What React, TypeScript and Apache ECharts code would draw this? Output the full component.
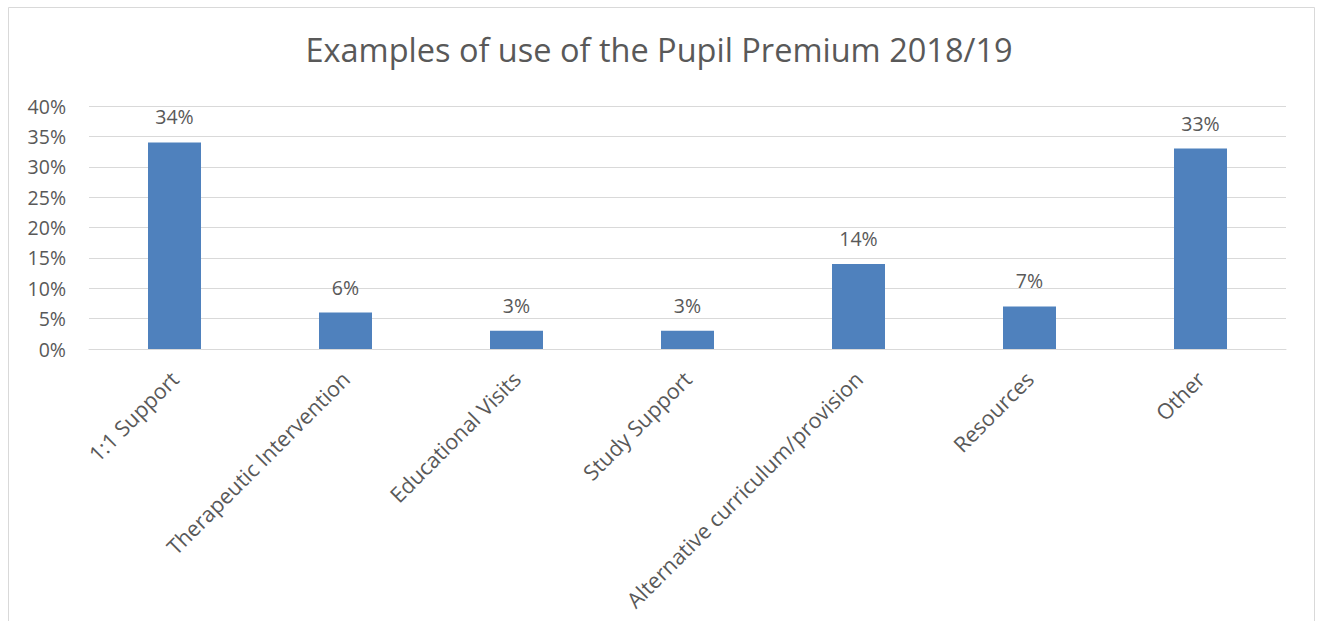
import React, { useEffect, useRef } from "react";
import * as echarts from "echarts";

const categories = [
  "1:1 Support",
  "Therapeutic Intervention",
  "Educational Visits",
  "Study Support",
  "Alternative curriculum/provision",
  "Resources",
  "Other",
];
const values = [34, 6, 3, 3, 14, 7, 33];
const titleText = "Examples of use of the Pupil Premium 2018/19";

const FONT = "'Open Sans', sans-serif";
const TXT = "#595959";

export default function App() {
  const ref = useRef<HTMLDivElement>(null);
  useEffect(() => {
    if (!ref.current) return;
    const chart = echarts.init(ref.current, null, { renderer: "svg" });
    chart.setOption({
      animation: false,
      backgroundColor: "#ffffff",
      title: {
        text: titleText,
        left: "center",
        top: 28,
        textStyle: { fontFamily: FONT, fontSize: 32.5, fontWeight: "normal", color: TXT },
      },
      graphic: [
        {
          type: "rect",
          shape: { x: 8.5, y: 7.5, width: 1306, height: 620 },
          style: { fill: "none", stroke: "#d9d9d9", lineWidth: 1 },
          silent: true,
        },
      ],
      grid: { left: 89, right: 32, top: 106, bottom: 272, containLabel: false },
      xAxis: {
        type: "category",
        data: categories,
        axisLine: { lineStyle: { color: "#d9d9d9", width: 1 } },
        axisTick: { show: false },
        axisLabel: {
          rotate: 45,
          interval: 0,
          margin: 26,
          fontFamily: FONT,
          fontSize: 21.5,
          color: TXT,
        },
      },
      yAxis: {
        type: "value",
        min: 0,
        max: 40,
        interval: 5,
        axisLine: { show: false },
        axisTick: { show: false },
        splitLine: { lineStyle: { color: "#d9d9d9", width: 1 } },
        axisLabel: {
          formatter: "{value}%",
          margin: 23,
          fontFamily: FONT,
          fontSize: 19.5,
          color: TXT,
        },
      },
      series: [
        {
          type: "bar",
          data: values,
          barWidth: 53,
          itemStyle: { color: "#4f81bd" },
          label: {
            show: true,
            position: "top",
            distance: 15.5,
            formatter: "{c}%",
            fontFamily: FONT,
            fontSize: 19.5,
            color: TXT,
          },
        },
      ],
    });
    return () => chart.dispose();
  }, []);
  return (
    <div
      ref={ref}
      style={{ position: "absolute", left: 0, top: 0, width: 1318, height: 621 }}
    />
  );
}
